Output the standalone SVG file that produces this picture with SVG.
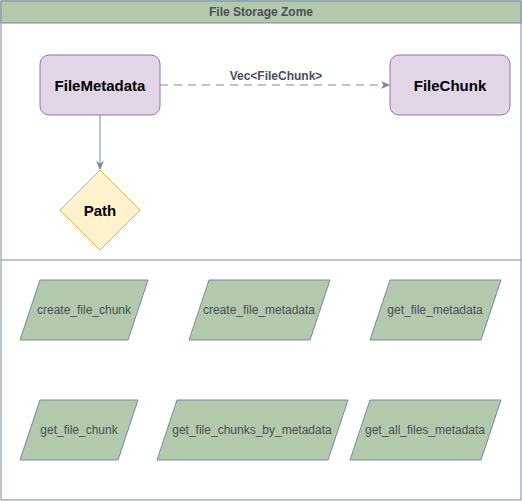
<svg xmlns="http://www.w3.org/2000/svg" width="522" height="501" viewBox="0 0 522 501">
<defs>
<style>
.t{font-family:"Liberation Sans",Arial,sans-serif;font-size:12px;fill:#4a4e5a;text-anchor:middle;dominant-baseline:central}
.b{font-weight:bold}
.n{font-family:"Liberation Sans",Arial,sans-serif;font-size:15px;font-weight:bold;fill:#000;text-anchor:middle;dominant-baseline:central}
.ent{fill:#E1D5E7;stroke:#9673A6;stroke-width:1}
.fn{fill:#B2C9AB;stroke:#788AA3;stroke-width:1}
.ln{fill:none;stroke:#788AA3;stroke-width:1}
</style>
<marker id="ah" markerWidth="10" markerHeight="10" refX="8" refY="5" orient="auto" markerUnits="userSpaceOnUse">
<path d="M0,1 L9,5 L0,9 L2.5,5 Z" fill="#788AA3"/>
</marker>
</defs>
<g id="zone">
<rect x="1" y="1" width="520" height="499" fill="#fff" stroke="#788AA3"/>
<rect x="1" y="1" width="520" height="22" fill="#B2C9AB" stroke="#788AA3"/>
<line x1="1" y1="260" x2="521" y2="260" stroke="#788AA3"/>
<text class="t b" x="261" y="12">File Storage Zome</text>
</g>
<g id="connectors">
<line class="ln" x1="160" y1="85" x2="389" y2="85" stroke-dasharray="8 6" marker-end="url(#ah)"/>
<text class="t b" x="276" y="76">Vec&lt;FileChunk&gt;</text>
<line class="ln" x1="100" y1="115" x2="100" y2="169" marker-end="url(#ah)"/>
</g>
<g id="FileMetadata">
<rect class="ent" x="40" y="55" width="120" height="60" rx="9"/>
<text class="n" x="100" y="85">FileMetadata</text>
</g>
<g id="FileChunk">
<rect class="ent" x="390" y="55" width="120" height="60" rx="9"/>
<text class="n" x="450" y="85">FileChunk</text>
</g>
<g id="Path">
<polygon points="100,170 140,210 100,250 60,210" fill="#FFF2CC" stroke="#D6B656"/>
<text class="n" x="100" y="210">Path</text>
</g>
<g id="create_file_chunk">
<polygon class="fn" points="40,280 148,280 128,340 20,340"/>
<text class="t" x="84" y="310">create_file_chunk</text>
</g>
<g id="create_file_metadata">
<polygon class="fn" points="209,280 330,280 310,340 189,340"/>
<text class="t" x="259" y="310">create_file_metadata</text>
</g>
<g id="get_file_metadata">
<polygon class="fn" points="390,280 501,280 481,340 370,340"/>
<text class="t" x="435" y="310">get_file_metadata</text>
</g>
<g id="get_file_chunk">
<polygon class="fn" points="40,400 138,400 118,460 20,460"/>
<text class="t" x="79" y="430">get_file_chunk</text>
</g>
<g id="get_file_chunks_by_metadata">
<polygon class="fn" points="177,400 348,400 328,460 157,460"/>
<text class="t" x="252" y="430">get_file_chunks_by_metadata</text>
</g>
<g id="get_all_files_metadata">
<polygon class="fn" points="370,400 501,400 481,460 350,460"/>
<text class="t" x="425" y="430">get_all_files_metadata</text>
</g>
</svg>
